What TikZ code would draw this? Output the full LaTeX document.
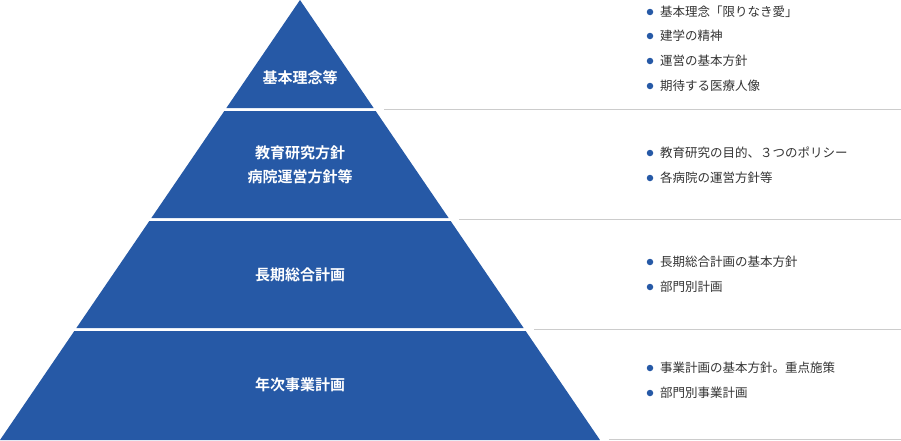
\documentclass[tikz,border=0pt]{standalone}
\usepackage{fontspec}
\setmainfont{Noto Sans CJK JP}
\newfontfamily\jpbold{Noto Sans CJK JP Bold}
\definecolor{pblue}{HTML}{2659A6}
\definecolor{txt}{HTML}{333333}
\definecolor{rule}{HTML}{CCCCCC}
\begin{document}
\begin{tikzpicture}[x=1pt,y=-1pt,
  lbl/.style={text=white,font=\jpbold\fontsize{15}{24}\selectfont,align=center},
  item/.style={anchor=west,text=txt,font=\fontsize{12.5}{14}\selectfont,inner sep=0pt},
  dotm/.style={fill=pblue,circle,inner sep=0pt,minimum size=6.5pt}]
\useasboundingbox (0,0) rectangle (901,440);
% bands
\foreach \a/\b in {0/108,111/218,221/328,331/440}{
  \fill[pblue] ({300-\a*0.6818},\a) -- ({300+\a*0.6818},\a) -- ({300+\b*0.6818},\b) -- ({300-\b*0.6818},\b) -- cycle;}
% grey rules
\foreach \y in {109,219,329,439}{
  \draw[rule,line width=0.8pt] ({300+\y*0.6818+10},\y) -- (901,\y);}
\node[lbl] (l1) at (300,78) {基本理念等};
\node[lbl] (l2) at (300,165) {教育研究方針\\病院運営方針等};
\node[lbl] (l3) at (300,275) {長期総合計画};
\node[lbl] (l4) at (300,385) {年次事業計画};
\foreach \y/\t [count=\i] in {12/基本理念「限りなき愛」,36/建学の精神,61/運営の基本方針,86/期待する医療人像,153/教育研究の目的、３つのポリシー,178/各病院の運営方針等,262/長期総合計画の基本方針,287/部門別計画,368/事業計画の基本方針。重点施策,393/部門別事業計画}{
  \node[dotm] (d\i) at (650,\y) {};
  \node[item] (t\i) at (660,\y) {\t};}
\end{tikzpicture}
\end{document}
